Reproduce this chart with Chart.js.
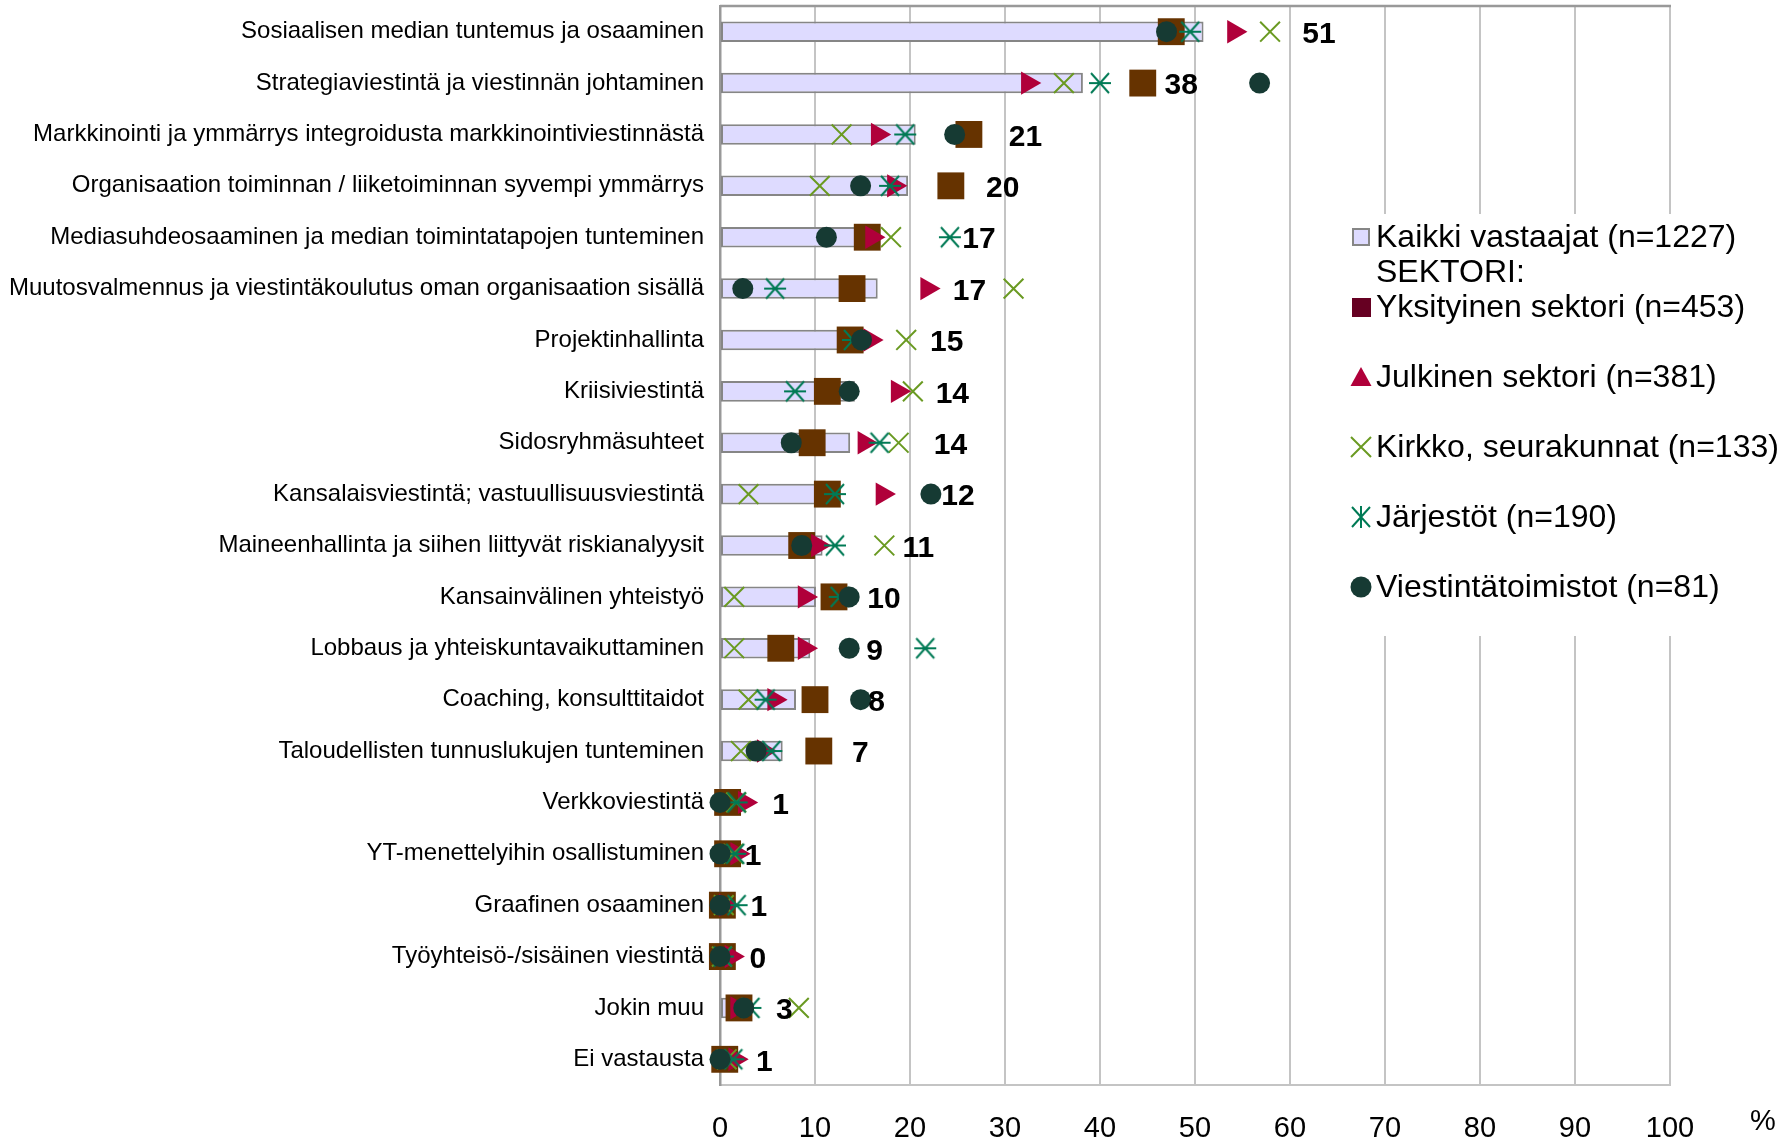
<!DOCTYPE html>
<html>
<head>
<meta charset="utf-8">
<script src="https://cdn.jsdelivr.net/npm/chart.js@4.4.1/dist/chart.umd.min.js"></script>
<style>
  html, body { margin: 0; padding: 0; background: #fff; }
  canvas { display: block; }
</style>
</head>
<body>
<canvas id="kaavio" width="1789" height="1141"></canvas>
<script>
const kategoriat = [
  "Sosiaalisen median tuntemus ja osaaminen",
  "Strategiaviestintä ja viestinnän johtaminen",
  "Markkinointi ja ymmärrys integroidusta markkinointiviestinnästä",
  "Organisaation toiminnan / liiketoiminnan syvempi ymmärrys",
  "Mediasuhdeosaaminen ja median toimintatapojen tunteminen",
  "Muutosvalmennus ja viestintäkoulutus oman organisaation sisällä",
  "Projektinhallinta",
  "Kriisiviestintä",
  "Sidosryhmäsuhteet",
  "Kansalaisviestintä; vastuullisuusviestintä",
  "Maineenhallinta ja siihen liittyvät riskianalyysit",
  "Kansainvälinen yhteistyö",
  "Lobbaus ja yhteiskuntavaikuttaminen",
  "Coaching, konsulttitaidot",
  "Taloudellisten tunnuslukujen tunteminen",
  "Verkkoviestintä",
  "YT-menettelyihin osallistuminen",
  "Graafinen osaaminen",
  "Työyhteisö-/sisäinen viestintä",
  "Jokin muu",
  "Ei vastausta"
];

// Kaikki vastaajat (palkki)
const kaikki = [50.9, 38.2, 20.6, 19.8, 16.7, 16.6, 14.8, 14.2, 13.7, 12.3, 10.8, 10.1, 9.5, 8.0, 6.6, 1.0, 1.0, 0.8, 0.3, 2.9, 1.0];
// palkin perässä näkyvä pyöristetty arvo
const kaikkiTekstit = ["51", "38", "21", "20", "17", "17", "15", "14", "14", "12", "11", "10", "9", "8", "7", "1", "1", "1", "0", "3", "1"];
// mihin kohtaan (%-asteikolla) arvo on kuvassa siirretty
const tekstinPaikka = [61.3, 46.8, 30.4, 28.0, 25.5, 24.5, 22.1, 22.7, 22.5, 23.3, 19.2, 15.5, 15.4, 15.6, 13.9, 5.5, 2.6, 3.2, 3.1, 5.9, 3.8];

// Sektorit (merkit)
const yksityinen = [47.5, 44.5, 26.2, 24.3, 15.5, 13.9, 13.7, 11.3, 9.7, 11.3, 8.6, 12.0, 6.4, 10.0, 10.4, 0.8, 0.8, 0.25, 0.25, 2.0, 0.5];
const julkinen = [54.1, 32.4, 16.6, 18.3, 16.0, 21.8, 15.8, 18.7, 15.2, 17.1, 10.3, 8.9, 8.9, 5.7, 4.6, 2.6, 1.8, 0.6, 1.2, 1.8, 1.6];
const kirkko = [57.9, 36.2, 12.8, 10.5, 18.0, 30.9, 19.6, 20.3, 18.8, 3.0, 17.3, 1.5, 1.5, 3.0, 2.2, 1.7, 1.4, 0.4, 0.2, 8.3, 0.7];
const jarjestot = [49.5, 40.0, 19.5, 17.9, 24.2, 5.8, 14.0, 7.9, 16.8, 12.1, 12.1, 12.6, 21.6, 4.8, 5.4, 1.75, 1.6, 1.75, 0.3, 3.2, 1.4];
const viestintatoimistot = [47.0, 56.8, 24.7, 14.8, 11.2, 2.4, 14.9, 13.6, 7.5, 22.2, 8.6, 13.6, 13.6, 14.8, 3.8, 0, 0, 0, 0, 2.5, 0];

const xTikit = [0, 10, 20, 30, 40, 50, 60, 70, 80, 90, 100];

const selitteet = [
  "Kaikki vastaajat (n=1227)",
  "SEKTORI:",
  "Yksityinen sektori (n=453)",
  "Julkinen sektori (n=381)",
  "Kirkko, seurakunnat (n=133)",
  "Järjestöt (n=190)",
  "Viestintätoimistot (n=81)"
];

const FONTTI = '"Liberation Sans", Arial, sans-serif';
Chart.defaults.font.family = FONTTI;
Chart.defaults.color = "#000";

const varit = {
  palkki: "#DEDBFF",
  palkkiReuna: "#868686",
  yksityinen: "#663300",
  yksityinenSelite: "#660022",
  julkinen: "#B0003A",
  kirkko: "#6A9A22",
  jarjestot: "#007A55",
  viestinta: "#163A33"
};

// tähti-merkki: vaaka- tai pystyviiva + risti
function tahtiKuva(pysty) {
  const c = document.createElement("canvas");
  c.width = 24;
  c.height = 24;
  const g = c.getContext("2d");
  g.strokeStyle = varit.jarjestot;
  g.lineWidth = 2;
  g.beginPath();
  if (pysty) {
    g.moveTo(12, 1); g.lineTo(12, 23);
  } else {
    g.moveTo(1, 12); g.lineTo(23, 12);
  }
  g.moveTo(3, 2); g.lineTo(21, 22);
  g.moveTo(21, 2); g.lineTo(3, 22);
  g.stroke();
  return c;
}
const tahtiVaaka = tahtiKuva(false);
const tahtiPysty = tahtiKuva(true);

function merkkiSarja(nimi, data, tyyli, extra) {
  return Object.assign({
    type: "line",
    label: nimi,
    data: data,
    indexAxis: "y",
    showLine: false,
    clip: false,
    pointStyle: tyyli,
    pointHoverRadius: 0
  }, extra);
}

const kehys = {
  id: "kehys",
  beforeDatasetsDraw(chart) {
    const a = chart.chartArea;
    const ctx = chart.ctx;
    ctx.save();
    ctx.strokeStyle = "#999";
    ctx.lineWidth = 2.5;
    ctx.beginPath();
    ctx.moveTo(a.left, a.top);
    ctx.lineTo(a.right + 1, a.top);
    ctx.stroke();
    ctx.restore();
  }
};

const arvotekstit = {
  id: "arvotekstit",
  afterDatasetsDraw(chart) {
    const ctx = chart.ctx;
    const xs = chart.scales.x;
    const ys = chart.scales.y;
    ctx.save();
    ctx.font = "bold 30px " + FONTTI;
    ctx.fillStyle = "#000";
    ctx.textAlign = "left";
    ctx.textBaseline = "middle";
    kaikkiTekstit.forEach(function (teksti, i) {
      ctx.fillText(teksti, xs.getPixelForValue(tekstinPaikka[i]), ys.getPixelForValue(i) + 3);
    });
    ctx.font = "29px " + FONTTI;
    ctx.fillText("%", 1750, 1122);
    ctx.restore();
  }
};

const selite = {
  id: "selite",
  afterDraw(chart) {
    const ctx = chart.ctx;
    ctx.save();
    ctx.fillStyle = "#fff";
    ctx.fillRect(1336, 214, 450, 422);

    const mx = 1361;
    const tx = 1376;
    const rivit = [237, 272, 307, 377, 447, 517, 587];

    // Kaikki vastaajat
    ctx.fillStyle = varit.palkki;
    ctx.fillRect(mx - 8, rivit[0] - 8, 16, 16);
    ctx.strokeStyle = varit.palkkiReuna;
    ctx.lineWidth = 2;
    ctx.strokeRect(mx - 8, rivit[0] - 8, 16, 16);
    // Yksityinen
    ctx.fillStyle = varit.yksityinenSelite;
    ctx.fillRect(mx - 9, rivit[2] - 9, 19, 19);
    // Julkinen
    ctx.fillStyle = varit.julkinen;
    ctx.beginPath();
    ctx.moveTo(mx, rivit[3] - 10);
    ctx.lineTo(mx + 10.5, rivit[3] + 9);
    ctx.lineTo(mx - 10.5, rivit[3] + 9);
    ctx.closePath();
    ctx.fill();
    // Kirkko
    ctx.strokeStyle = varit.kirkko;
    ctx.lineWidth = 2;
    ctx.beginPath();
    ctx.moveTo(mx - 10, rivit[4] - 10); ctx.lineTo(mx + 10, rivit[4] + 10);
    ctx.moveTo(mx + 10, rivit[4] - 10); ctx.lineTo(mx - 10, rivit[4] + 10);
    ctx.stroke();
    // Järjestöt
    ctx.drawImage(tahtiPysty, mx - 12, rivit[5] - 12);
    // Viestintätoimistot
    ctx.fillStyle = varit.viestinta;
    ctx.beginPath();
    ctx.arc(mx, rivit[6], 10.5, 0, Math.PI * 2);
    ctx.fill();

    ctx.font = "32px " + FONTTI;
    ctx.fillStyle = "#000";
    ctx.textAlign = "left";
    ctx.textBaseline = "middle";
    selitteet.forEach(function (teksti, i) {
      ctx.fillText(teksti, tx, rivit[i] + 1);
    });
    ctx.restore();
  }
};

new Chart(document.getElementById("kaavio"), {
  type: "bar",
  data: {
    labels: kategoriat,
    datasets: [
      {
        type: "bar",
        label: selitteet[0],
        data: kaikki,
        backgroundColor: varit.palkki,
        borderColor: varit.palkkiReuna,
        borderWidth: 2,
        borderSkipped: false,
        barPercentage: 0.4,
        categoryPercentage: 1,
        order: 6
      },
      merkkiSarja(selitteet[2], yksityinen, "rect", {
        pointRadius: 19, backgroundColor: varit.yksityinen, borderColor: varit.yksityinen, borderWidth: 0, order: 5
      }),
      merkkiSarja(selitteet[3], julkinen, "triangle", {
        pointRadius: 13.5, pointRotation: 90, backgroundColor: varit.julkinen, borderColor: varit.julkinen, borderWidth: 0, order: 4
      }),
      merkkiSarja(selitteet[4], kirkko, "crossRot", {
        pointRadius: 14, backgroundColor: varit.kirkko, borderColor: varit.kirkko, borderWidth: 2, order: 3
      }),
      merkkiSarja(selitteet[5], jarjestot, tahtiVaaka, {
        pointRadius: 12, backgroundColor: varit.jarjestot, borderColor: varit.jarjestot, order: 2
      }),
      merkkiSarja(selitteet[6], viestintatoimistot, "circle", {
        pointRadius: 10.5, backgroundColor: varit.viestinta, borderColor: varit.viestinta, borderWidth: 0, order: 1
      })
    ]
  },
  options: {
    indexAxis: "y",
    responsive: false,
    animation: false,
    events: [],
    layout: { autoPadding: false, padding: { top: 6, right: 119, left: 0, bottom: 0 } },
    plugins: {
      legend: { display: false },
      tooltip: { enabled: false }
    },
    scales: {
      x: {
        type: "linear",
        position: "bottom",
        min: 0,
        max: 100,
        afterBuildTicks: function (akseli) {
          akseli.ticks = xTikit.map(function (v) { return { value: v }; });
        },
        afterFit: function (akseli) { akseli.height = 56; },
        ticks: { font: { size: 29 }, color: "#000", padding: 27 },
        grid: { color: "#C4C4C4", lineWidth: 2, drawTicks: false },
        border: { color: "#C4C4C4", width: 2 }
      },
      y: {
        type: "category",
        offset: true,
        afterFit: function (akseli) {
          akseli.width = 720;
          akseli.paddingTop = 0;
          akseli.paddingBottom = 0;
        },
        ticks: { font: { size: 24 }, color: "#000", padding: 16 },
        grid: { display: false, drawTicks: false },
        border: { color: "#999", width: 2.5 }
      }
    }
  },
  plugins: [kehys, arvotekstit, selite]
});
</script>
</body>
</html>
